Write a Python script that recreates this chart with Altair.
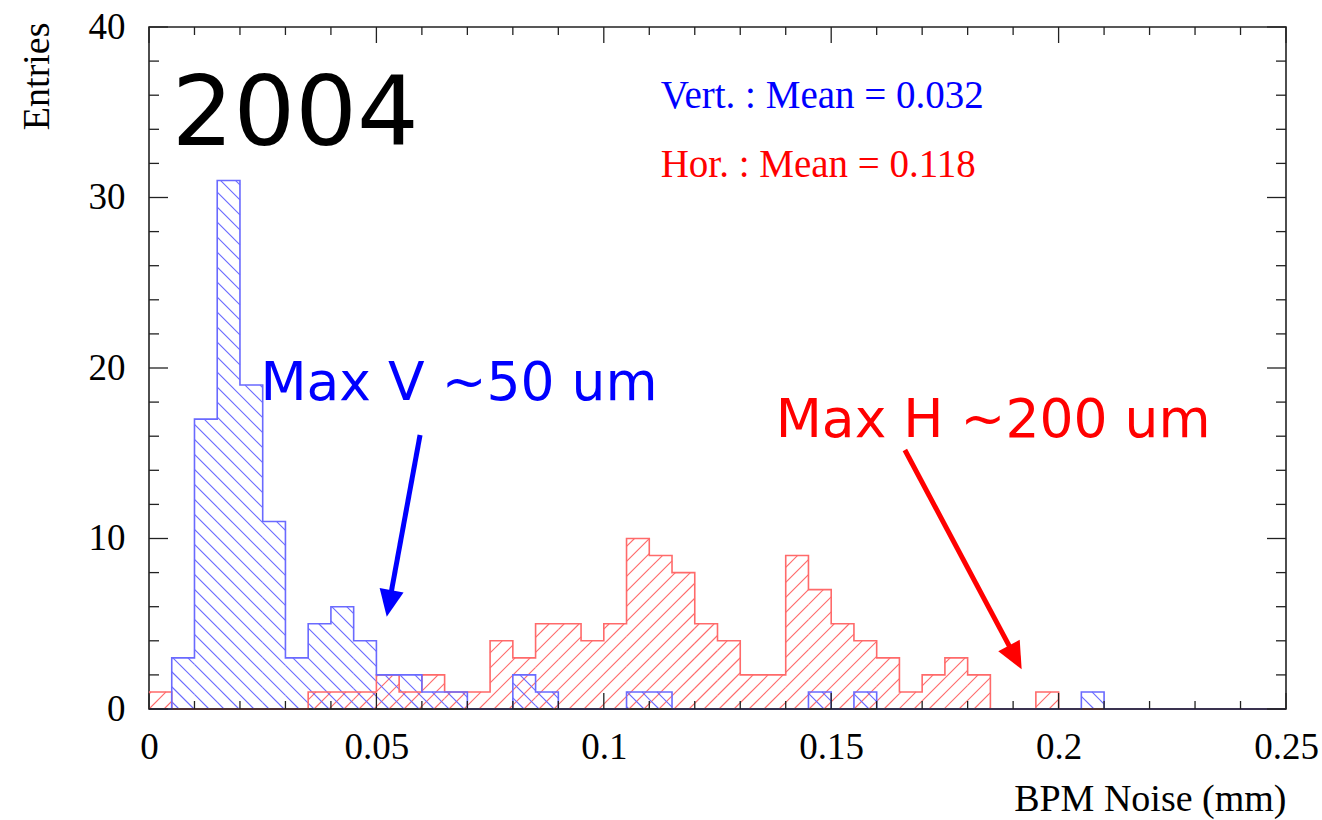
import math

import altair as alt
import pandas as pd

# ---------------------------------------------------------------------------
# Histogram contents: BPM noise, 50 bins of 0.005 mm from 0 to 0.25 mm
# ---------------------------------------------------------------------------
BIN_WIDTH = 0.005
bin_lo = [round(i * BIN_WIDTH, 3) for i in range(50)]

vert_counts = [0, 3, 17, 31, 19, 11, 3, 5, 6, 4,
               2, 2, 1, 1, 0, 0, 2, 1, 0, 0,
               0, 1, 1, 0, 0, 0, 0, 0, 0, 1,
               0, 1, 0, 0, 0, 0, 0, 0, 0, 0,
               0, 1, 0, 0, 0, 0, 0, 0, 0, 0]

hor_counts = [1, 0, 0, 0, 0, 0, 0, 1, 1, 1,
              2, 1, 2, 1, 1, 4, 3, 5, 5, 4,
              5, 10, 9, 8, 5, 4, 2, 2, 9, 7,
              5, 4, 3, 1, 2, 3, 2, 0, 0, 1,
              0, 0, 0, 0, 0, 0, 0, 0, 0, 0]

# axis ticks
x_major = [0, 0.05, 0.1, 0.15, 0.2, 0.25]
x_minor = [0.01, 0.02, 0.03, 0.04, 0.06, 0.07, 0.08, 0.09, 0.11, 0.12, 0.13,
           0.14, 0.16, 0.17, 0.18, 0.19, 0.21, 0.22, 0.23, 0.24]
y_major = [0, 10, 20, 30, 40]
y_minor = [2, 4, 6, 8, 12, 14, 16, 18, 22, 24, 26, 28, 32, 34, 36, 38]

# annotations (data coordinates)
label_year = ["2004"]
label_year_xy = [0.0050, 33.1]
label_means = ["Vert. : Mean = 0.032", "Hor. : Mean = 0.118"]
label_means_x = [0.1125, 0.1125]
label_means_y = [35.25, 31.2]
label_max = ["Max V ~50 um", "Max H ~200 um"]
label_max_x = [0.0245, 0.1378]
label_max_y = [18.1, 15.95]
arrow_tail = [(0.0596, 16.07), (0.1662, 15.19)]
arrow_tip = [(0.05227, 5.41), (0.19188, 2.33)]

BLUE = "#0000ff"
RED = "#ff0000"
HATCH_BLUE = "#6a6aff"
HATCH_RED = "#ff6a6a"
SERIF = "Liberation Serif"
SANS = "DejaVu Sans"
FRAME = "#222222"

W, H = 1137, 682
XMAX, YMAX = 0.25, 40
SX, SY = W / XMAX, H / YMAX  # pixels per data unit

xscale = alt.Scale(domain=[0, XMAX], nice=False, zero=False)
yscale = alt.Scale(domain=[0, YMAX], nice=False, zero=False)

x_axis = alt.Axis(
    values=x_major, format="~g", ticks=False, tickSize=0, domain=False, grid=False,
    labelFont=SERIF, labelFontSize=37, labelColor="black", labelPadding=20,
    labelFlush=False, labelOverlap=False,
    title="BPM Noise (mm)", titleFont=SERIF, titleFontSize=38, titleFontWeight="normal",
    titleColor="black", titleAlign="right", titleAnchor="end", titleX=W, titleY=101,
    titleBaseline="alphabetic")

y_axis = alt.Axis(
    values=y_major, format="d", ticks=False, tickSize=0, domain=False, grid=False,
    labelFont=SERIF, labelFontSize=37, labelColor="black", labelPadding=24,
    labelFlush=False, labelOverlap=False,
    title="Entries", titleFont=SERIF, titleFontSize=38, titleFontWeight="normal",
    titleColor="black", titleAngle=270, titleAlign="right", titleX=-101, titleY=-5,
    titleBaseline="alphabetic")


def X(field):
    return alt.X(field, type="quantitative", scale=xscale, axis=x_axis)


def Y(field):
    return alt.Y(field, type="quantitative", scale=yscale, axis=y_axis)


def hatch_segments(counts, rising, spacing=15.0):
    """Clip a 45-degree line pattern to every filled bin of a histogram."""
    rows = []
    for lo, c in zip(bin_lo, counts):
        if c <= 0:
            continue
        x0, x1, top = lo * SX, (lo + BIN_WIDTH) * SX, c * SY
        if rising:  # "/" lines: Y = X - off
            kmin = math.floor((x0 - top) / spacing)
            kmax = math.ceil(x1 / spacing)
            for k in range(kmin, kmax + 1):
                off = k * spacing
                xa, xb = max(x0, off), min(x1, off + top)
                if xb - xa > 0.3:
                    rows.append((xa, xa - off, xb, xb - off))
        else:  # "\" lines: Y = off - X
            kmin = math.floor(x0 / spacing)
            kmax = math.ceil((x1 + top) / spacing)
            for k in range(kmin, kmax + 1):
                off = k * spacing
                xa, xb = max(x0, off - top), min(x1, off)
                if xb - xa > 0.3:
                    rows.append((xa, off - xa, xb, off - xb))
    return pd.DataFrame({
        "x": [r[0] / SX for r in rows], "y": [r[1] / SY for r in rows],
        "x2": [r[2] / SX for r in rows], "y2": [r[3] / SY for r in rows],
    })


def outline(counts):
    xs = bin_lo + [XMAX]
    ys = list(counts) + [0]
    return pd.DataFrame({"x": xs, "y": ys})


def hatch_layer(counts, rising, color):
    return alt.Chart(hatch_segments(counts, rising)).mark_rule(
        color=color, strokeWidth=1.1
    ).encode(x=X("x"), y=Y("y"), x2="x2:Q", y2="y2:Q")


def outline_layer(counts, color):
    return alt.Chart(outline(counts)).mark_line(
        interpolate="step-after", color=color, strokeWidth=1.6
    ).encode(x=X("x"), y=Y("y"))


# arrows: shaft stops inside the head, head drawn as a rotated triangle
HEAD_LEN = 27.0
HEAD_PATH = "M0,0L0.9,2L-0.9,2Z"
arrow_rows = []
for (tx, ty), (hx, hy), col in zip(arrow_tail, arrow_tip, [BLUE, RED]):
    dxp, dyp = (hx - tx) * SX, -(hy - ty) * SY  # screen direction (y down)
    length = math.hypot(dxp, dyp)
    ux, uy = dxp / length, dyp / length
    angle = math.degrees(math.atan2(ux, -uy)) % 360
    ex, ey = hx - ux * 20 / SX, hy + uy * 20 / SY
    arrow_rows.append({"x": tx, "y": ty, "x2": ex, "y2": ey,
                       "hx": hx, "hy": hy, "angle": angle, "col": col})
arrows = pd.DataFrame(arrow_rows)

shafts = alt.Chart(arrows).mark_rule(strokeWidth=5).encode(
    x=X("x"), y=Y("y"), x2="x2:Q", y2="y2:Q",
    color=alt.Color("col:N", scale=None),
)
heads = alt.Chart(arrows).mark_point(
    shape=HEAD_PATH, filled=True, size=HEAD_LEN ** 2, opacity=1, strokeWidth=0
).encode(
    x=X("hx"), y=Y("hy"),
    angle=alt.Angle("angle:Q", scale=None),
    color=alt.Color("col:N", scale=None),
)

# text annotations
year = alt.Chart(pd.DataFrame({"t": label_year, "x": [label_year_xy[0]],
                               "y": [label_year_xy[1]]})).mark_text(
    font=SANS, fontSize=97, align="left", baseline="alphabetic", color="black"
).encode(x=X("x"), y=Y("y"), text="t:N")

means = alt.Chart(pd.DataFrame({"t": label_means, "x": label_means_x, "y": label_means_y,
                                "col": [BLUE, RED]})).mark_text(
    font=SERIF, fontSize=39, align="left", baseline="alphabetic"
).encode(x=X("x"), y=Y("y"), text="t:N", color=alt.Color("col:N", scale=None))

maxes = alt.Chart(pd.DataFrame({"t": label_max, "x": label_max_x, "y": label_max_y,
                                "col": [BLUE, RED]})).mark_text(
    font=SANS, fontSize=53.5, align="left", baseline="alphabetic"
).encode(x=X("x"), y=Y("y"), text="t:N", color=alt.Color("col:N", scale=None))


# inward-pointing ticks on all four sides of the frame
def xticks(values, length):
    df = pd.DataFrame({"v": values})
    bottom = alt.Chart(df).mark_rule(color=FRAME, strokeWidth=1.3).encode(
        x=X("v"), y=alt.value(H), y2=alt.value(H - length))
    top = alt.Chart(df).mark_rule(color=FRAME, strokeWidth=1.3).encode(
        x=X("v"), y=alt.value(0), y2=alt.value(length))
    return [bottom, top]


def yticks(values, length):
    df = pd.DataFrame({"v": values})
    left = alt.Chart(df).mark_rule(color=FRAME, strokeWidth=1.3).encode(
        y=Y("v"), x=alt.value(0), x2=alt.value(length))
    right = alt.Chart(df).mark_rule(color=FRAME, strokeWidth=1.3).encode(
        y=Y("v"), x=alt.value(W), x2=alt.value(W - length))
    return [left, right]


# bottom edge of the frame redrawn above the histogram outlines
baseline_rule = alt.Chart(pd.DataFrame({"v": [0]})).mark_rule(
    color=FRAME, strokeWidth=1.6
).encode(y=Y("v"), x=alt.value(0), x2=alt.value(W))

layers = [
    hatch_layer(hor_counts, True, HATCH_RED),
    hatch_layer(vert_counts, False, HATCH_BLUE),
    outline_layer(hor_counts, HATCH_RED),
    outline_layer(vert_counts, HATCH_BLUE),
    baseline_rule,
    shafts, heads, year, means, maxes,
] + xticks(x_major, 16) + xticks(x_minor, 8) + yticks(y_major, 19) + yticks(y_minor, 10)

chart = alt.layer(*layers).properties(
    width=W, height=H,
    padding={"left": 149, "top": 27, "right": 36, "bottom": 111},
    autosize=alt.AutoSizeParams(type="none"),
    background="white",
).configure_view(stroke=FRAME, strokeWidth=1.6)

chart.save("out.html", embed_options={"renderer": "svg", "actions": False})
